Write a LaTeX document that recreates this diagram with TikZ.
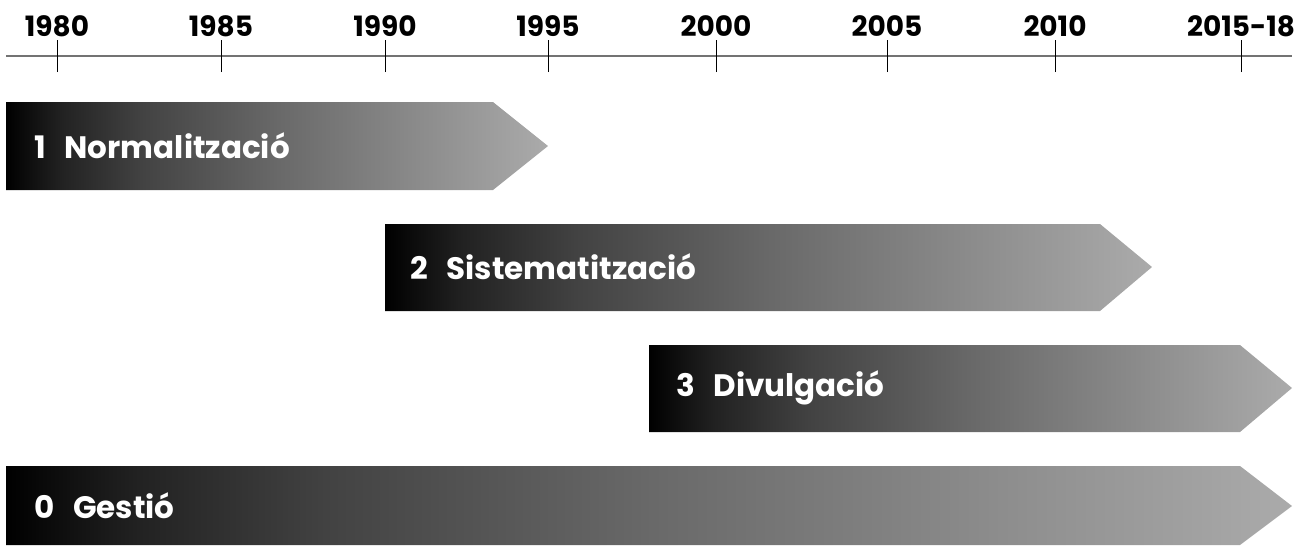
\documentclass[tikz,border=0pt]{standalone}
\usepackage{fontspec}
\setmainfont{Poppins}
\usetikzlibrary{positioning}

\definecolor{fadeA}{gray}{0.13}
\definecolor{fadeB}{gray}{0.26}
\definecolor{fadeC}{gray}{0.41}
\definecolor{fadeD}{gray}{0.54}
\definecolor{fadeE}{gray}{0.67}
\pgfdeclarehorizontalshading{phasefade}{100bp}{color(0bp)=(black); color(25bp)=(black);
  color(30bp)=(fadeA); color(37.5bp)=(fadeB); color(50bp)=(fadeC);
  color(62.5bp)=(fadeD); color(75bp)=(fadeE); color(100bp)=(fadeE)}

\tikzset{
  year/.style={font=\fontsize{14}{16}\selectfont\bfseries, inner sep=0pt},
  phase/.style={shading=phasefade, draw=none},
  phaselabel/.style={font=\fontsize{15.5}{18}\selectfont\bfseries, text=white, anchor=west, inner sep=0pt},
}

\begin{document}
\begin{tikzpicture}[x=0.5pt,y=-0.5pt]
\useasboundingbox (0,0) rectangle (1306,547);

% time axis
\coordinate (AXL) at (6,56);
\coordinate (AXR) at (1292,56);
\draw [black!55, line width=1pt] (AXL) -- (AXR);
\foreach \x/\yr [count=\i] in {57/1980,221/1985,385/1990,548/1995,716/2000,887/2005,1055/2010,1241/2015-18} {
  \coordinate (T\i) at (\x,56);
  \draw [black, line width=0.5pt] ([yshift=-8]T\i) -- ([yshift=8]T\i);
  \node [year] (Y\i) at (\x,26) {\yr};
}

% phases
\shade [phase] (6,102) -- (493,102) -- (548,146) -- (493,190) -- (6,190) -- cycle;
\node [phaselabel] (NORM) at (34,146) {1\hspace{0.6em}Normalització};

\shade [phase] (385,224) -- (1100,224) -- (1152,267) -- (1100,311) -- (385,311) -- cycle;
\node [phaselabel] (SIST) at (410,267) {2\hspace{0.6em}Sistematització};

\shade [phase] (649,345) -- (1240,345) -- (1292,388) -- (1240,432) -- (649,432) -- cycle;
\node [phaselabel] (DIV) at (676,388) {3\hspace{0.6em}Divulgació};

\shade [phase] (6,466) -- (1240,466) -- (1292,506) -- (1240,545) -- (6,545) -- cycle;
\node [phaselabel] (GEST) at (34,506) {0\hspace{0.6em}Gestió};
\end{tikzpicture}
\end{document}
